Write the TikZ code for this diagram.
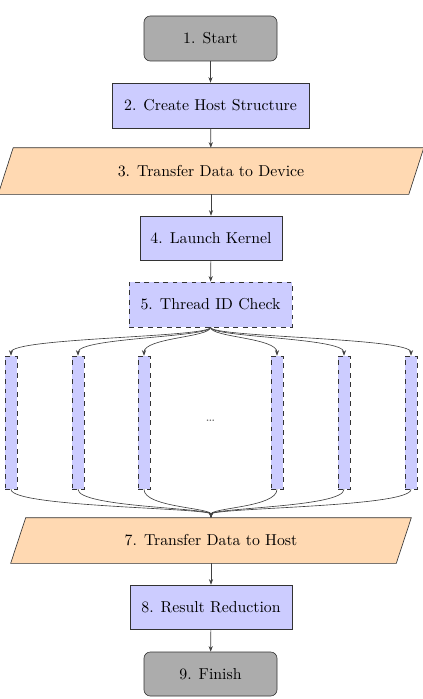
\documentclass[tikz,border=0pt]{standalone}
\usetikzlibrary{arrows.meta}
\pgfdeclarelayer{bg}
\pgfsetlayers{bg,main}
\newcommand{\pxu}{0.6325pt}
\begin{document}
\begin{tikzpicture}[x=0.6325pt,y=-0.6325pt,
  base/.style={draw=black!80, inner sep=0pt, align=center},
  term/.style={base, rectangle, rounded corners=4pt, fill=gray!65},
  proc/.style={base, rectangle, fill=blue!20},
  dproc/.style={proc, dashed},
  io/.style={inner sep=0pt, align=center},
  paraS/.style={draw=black!80, fill=orange!30},
  arr/.style={-{Stealth[length=3.5pt,width=2.6pt]}, draw=black!75},
  ]
\useasboundingbox (0,0) rectangle (423,699);

\node[term, minimum width=133*\pxu, minimum height=45*\pxu] (start) at (210.5,38.5) {1. Start};
\node[proc, minimum width=197*\pxu, minimum height=45*\pxu] (host) at (210.5,105.5) {2. Create Host Structure};
\node[io, minimum width=410*\pxu, minimum height=46*\pxu] (dev) at (211,171) {3. Transfer Data to Device};
\node[proc, minimum width=142*\pxu, minimum height=44*\pxu] (kern) at (211,238) {4. Launch Kernel};
\node[dproc, minimum width=163*\pxu, minimum height=45*\pxu] (tid) at (210.5,304.5) {5. Thread ID Check};

\node[dproc, minimum width=12*\pxu, minimum height=133*\pxu] (b1) at (11,422.5) {};
\node[dproc, minimum width=12*\pxu, minimum height=133*\pxu] (b2) at (78,422.5) {};
\node[dproc, minimum width=12*\pxu, minimum height=133*\pxu] (b3) at (144,422.5) {};
\node[dproc, minimum width=12*\pxu, minimum height=133*\pxu] (b4) at (277,422.5) {};
\node[dproc, minimum width=12*\pxu, minimum height=133*\pxu] (b5) at (344,422.5) {};
\node[dproc, minimum width=12*\pxu, minimum height=133*\pxu] (b6) at (411,422.5) {};
\node[font=\small, text=black!60] (dots) at (210.5,421) {\dots};

\node[io, minimum width=385*\pxu, minimum height=45*\pxu] (host7) at (211,540.5) {7. Transfer Data to Host};
\node[proc, minimum width=162*\pxu, minimum height=44*\pxu] (red) at (211,607) {8. Result Reduction};
\node[term, minimum width=133*\pxu, minimum height=44*\pxu] (fin) at (210.5,674) {9. Finish};

\begin{pgfonlayer}{bg}
\draw[paraS] ([xshift=7.5*\pxu]dev.north west) -- ([xshift=7.5*\pxu]dev.north east) -- ([xshift=-7.5*\pxu]dev.south east) -- ([xshift=-7.5*\pxu]dev.south west) -- cycle;
\draw[paraS] ([xshift=7.5*\pxu]host7.north west) -- ([xshift=7.5*\pxu]host7.north east) -- ([xshift=-7.5*\pxu]host7.south east) -- ([xshift=-7.5*\pxu]host7.south west) -- cycle;
\end{pgfonlayer}

\draw[arr] (start) -- (host);
\draw[arr] (host) -- (dev);
\draw[arr] (dev) -- (kern);
\draw[arr] (kern) -- (tid);
\foreach \b in {b1,b2,b3,b4,b5,b6}{
  \draw[arr] (tid.south) .. controls ([yshift=-10*\pxu]tid.south) and ([yshift=18*\pxu]\b.north) .. (\b.north);
  \draw[arr] (\b.south) .. controls ([yshift=-18*\pxu]\b.south) and ([yshift=10*\pxu]host7.north) .. (host7.north);
}
\draw[arr] (host7) -- (red);
\draw[arr] (red) -- (fin);
\end{tikzpicture}
\end{document}
